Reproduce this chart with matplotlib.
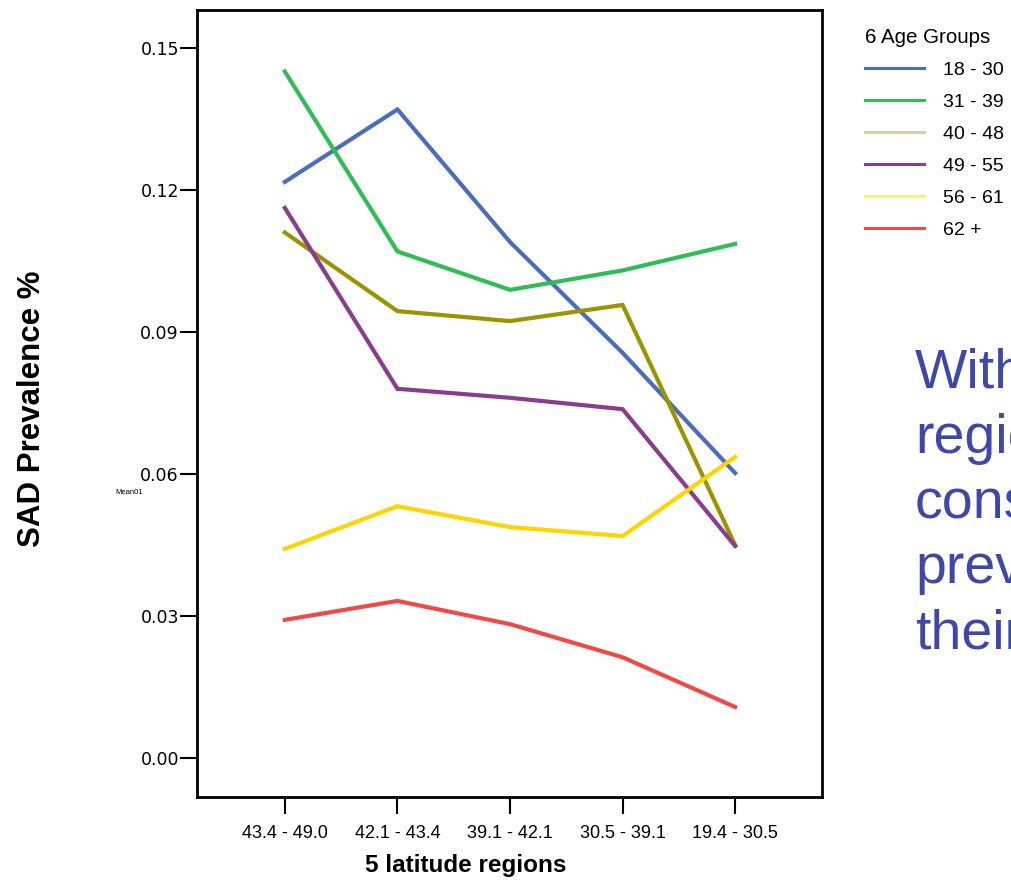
import numpy as np
import matplotlib
matplotlib.use('Agg')
import matplotlib.pyplot as plt
from matplotlib.lines import Line2D

regions = ['43.4 - 49.0', '42.1 - 43.4', '39.1 - 42.1', '30.5 - 39.1', '19.4 - 30.5']
groups = ['18 - 30', '31 - 39', '40 - 48', '49 - 55', '56 - 61', '62 +']

age_18_30 = [0.1217, 0.1370, 0.1090, 0.0856, 0.0602]
age_31_39 = [0.1450, 0.1070, 0.0989, 0.1030, 0.1086]
age_40_48 = [0.1110, 0.0944, 0.0923, 0.0957, 0.0450]
age_49_55 = [0.1162, 0.0780, 0.0761, 0.0737, 0.0448]
age_56_61 = [0.0442, 0.0532, 0.0488, 0.0469, 0.0636]
age_62_up = [0.0292, 0.0332, 0.0283, 0.0213, 0.0108]

series = [age_18_30, age_31_39, age_40_48, age_49_55, age_56_61, age_62_up]
line_colors = ['#4a6ebb', '#2fbe55', '#9a9400', '#8b3d8d', '#ffd400', '#f04a48']
legend_colors = ['#4a6ebb', '#2fbe55', '#d6d0a6', '#8b3d8d', '#f8f080', '#f04a48']

fig = plt.figure(figsize=(10.11, 8.82), dpi=100)
ax = fig.add_axes([0.1949, 0.0964, 0.618, 0.8923])

x = np.arange(len(regions))
for vals, c in zip(series, line_colors):
    ax.plot(x, vals, color=c, lw=3, solid_joinstyle='miter', zorder=2)

ax.set_xlim(-0.78, 4.77)
ax.set_ylim(-0.0082, 0.158)
ax.set_yticks([0.0, 0.03, 0.06, 0.09, 0.12, 0.15])
ax.set_yticklabels(['0.00', '0.03', '0.06', '0.09', '0.12', '0.15'],
                   family='DejaVu Sans', fontsize=12.5)
ax.set_xticks(x)
ax.set_xticklabels(regions, family='Liberation Sans', fontsize=13)
ax.tick_params(axis='both', direction='out', length=12, width=1.5, color='black')
ax.tick_params(axis='y', pad=1)
ax.tick_params(axis='x', pad=8)
for s in ax.spines.values():
    s.set_linewidth(2)

fig.text(0.461, 0.019, '5 latitude regions', ha='center', va='center',
         family='Liberation Sans', fontsize=17.5, fontweight='bold')
fig.text(0.032, 0.536, 'SAD Prevalence %', rotation=90, ha='center', va='center',
         family='Liberation Sans', fontsize=22.5, fontweight='bold')
fig.text(0.114, 0.442, 'Mean01', family='Liberation Sans', fontsize=5.5, ha='left', va='center')

handles = [Line2D([], [], color=c, lw=2.2) for c in legend_colors]
leg = fig.legend(handles, groups, title='6 Age Groups', loc='upper left',
                 bbox_to_anchor=(0.856, 0.968), frameon=False,
                 prop={'family': 'Liberation Sans', 'size': 14},
                 handlelength=3.0, handletextpad=1.0, labelspacing=0.74,
                 borderpad=0, borderaxespad=0)
leg.get_title().set_fontsize(14.8)
leg.get_title().set_family('Liberation Sans')
leg._legend_box.align = 'left'

fig.text(0.905, 0.606, 'Within\nregions\nconsistent\nprevalence\ntheir',
         color='#3f48a8', family='Liberation Sans', fontsize=40,
         ha='left', va='top', linespacing=1.33)

fig.savefig('out.png', dpi=100)
